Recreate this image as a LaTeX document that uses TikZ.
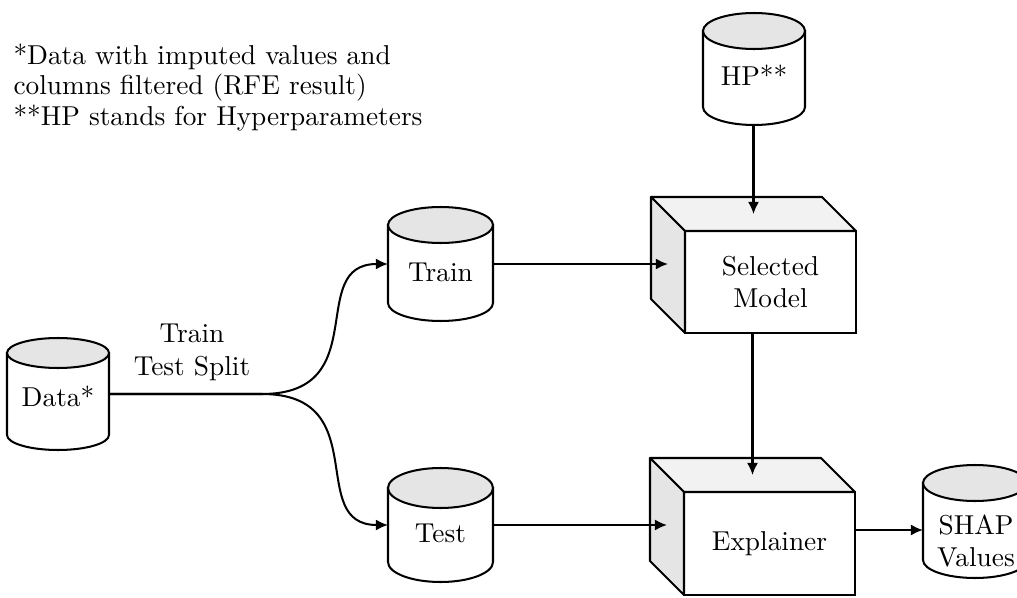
\documentclass[tikz,border=0pt]{standalone}
\usetikzlibrary{arrows.meta,calc}

% one drawing unit
\def\pxu{0.395pt}

\tikzset{
  edge/.style={line width=0.8pt},
  arr/.style={edge, -{Latex[length=4.8pt,width=4.4pt]}},
  cylbox/.style={rectangle, inner sep=0pt, outer sep=0pt},
  cylline/.style={line width=0.8pt},
  cyltext/.style={inner sep=0pt, align=center, text height=1.5ex, text depth=.25ex},
  frontface/.style={draw, line width=0.8pt, fill=white, inner sep=0pt, outer sep=0pt,
    minimum width=171*\pxu, minimum height=102*\pxu, align=center},
  topface/.style={draw, line width=0.8pt, fill=gray!10, line join=round},
  sideface/.style={draw, line width=0.8pt, fill=gray!20, line join=round},
  note/.style={inner sep=0pt, align=left, anchor=north west,
    font=\fontsize{10.8pt}{12.1pt}\selectfont},
  splitlabel/.style={inner sep=0pt, align=center},
}

% database cylinder: name, centre x, centre y, width, height, end radius
\newcommand\dbcyl[6]{%
  \node[cylbox, minimum width=#4*\pxu, minimum height=#5*\pxu] (#1) at (#2,#3) {};
  \draw[cylline, fill=white]
    (#2-#4/2, #3+#5/2-#6) -- (#2-#4/2, #3-#5/2+#6)
    arc[start angle=180, end angle=360, x radius=#4/2, y radius=#6]
    -- (#2+#4/2, #3+#5/2-#6) -- cycle;
  \draw[cylline, fill=gray!20] (#2, #3+#5/2-#6) ellipse[x radius=#4/2, y radius=#6];
}

% top and left faces of a box whose front face is node #1
\newcommand\boxfaces[1]{%
  \draw[topface] (#1.north west) -- ++(-34,34) -- ($(#1.north east)+(-34,34)$)
    -- (#1.north east) -- cycle;
  \draw[sideface] (#1.north west) -- ++(-34,34) -- ($(#1.south west)+(-34,34)$)
    -- (#1.south west) -- cycle;
}

\begin{document}
\begin{tikzpicture}[x=\pxu, y=\pxu, font=\fontsize{10.8pt}{13pt}\selectfont]
  \clip (0,0) rectangle (1017,597);
  \fill[white] (0,0) rectangle (1017,597);

  % footnotes
  \node[note] (notes) at (13,554)
    {*Data with imputed values and\\columns filtered (RFE result)\\**HP stands for Hyperparameters};

  % data stores
  \dbcyl{data}{58}{203}{102}{112}{15}
  \node[cyltext] (data-t) at (58,197) {Data*};

  \dbcyl{train}{440.5}{333}{105}{114}{18}
  \node[cyltext] (train-t) at (440.5,322) {Train};

  \dbcyl{test}{440.5}{72}{105}{114}{20}
  \node[cyltext] (test-t) at (440.5,61) {Test};

  \dbcyl{hp}{754}{528}{102}{112}{18}
  \node[cyltext] (hp-t) at (754,518) {HP**};

  \dbcyl{shap}{975}{75.5}{104}{113}{18}
  \node[splitlabel] (shap-t) at (976,56) {SHAP\\Values};

  % model and explainer boxes
  \node[frontface] (sel) at (770.5,315) {Selected\\Model};
  \boxfaces{sel}
  \node[frontface, minimum height=103*\pxu] (exp) at (769.5,53.5) {Explainer};
  \boxfaces{exp}

  % face centres used as arrow targets
  \coordinate (selin)  at ($(sel.west)+(-17,17)$);
  \coordinate (seltop) at ($(sel.north)+(-17,17)$);
  \coordinate (expin)  at ($(exp.west)+(-17,17)$);
  \coordinate (exptop) at ($(exp.north)+(-17,17)$);
  \coordinate (shapin) at ($(shap.west)+(0,-8.5)$);

  % train/test split
  \coordinate (split) at (262,203);
  \node[splitlabel] (split-t) at (192,245) {Train\\Test Split};
  \draw[arr] (data.east) -- (split) .. controls (375,203) and (305,333) .. (train.west);
  \draw[arr] (data.east) -- (split) .. controls (375,203) and (305,72) .. (test.west);

  % flows
  \draw[arr] (train.east) -- (train.east -| selin);
  \draw[arr] (test.east) -- (test.east -| expin);
  \draw[arr] (seltop |- hp.south) -- (seltop);
  \draw[arr] (exptop |- sel.south) -- (exptop);
  \draw[arr] (exp.east |- shapin) -- (shapin);
\end{tikzpicture}
\end{document}
